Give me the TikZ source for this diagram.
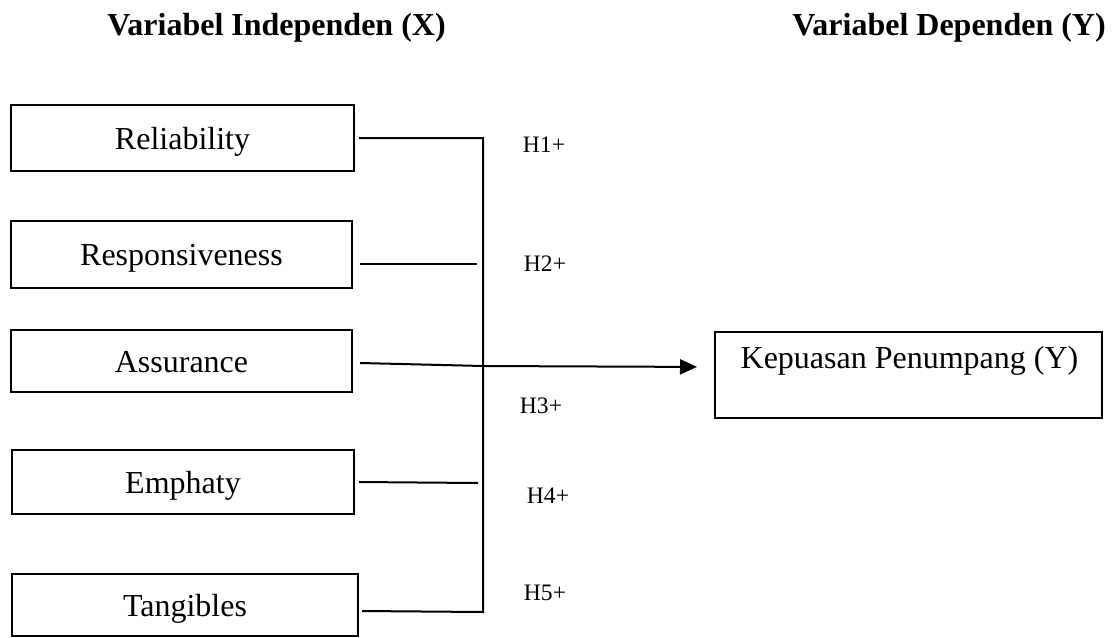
\documentclass[tikz,border=0pt]{standalone}
\usepackage{fontspec}
\setmainfont{Liberation Serif}
\usetikzlibrary{arrows.meta}

\tikzset{
  varbox/.style={draw,line width=1pt,minimum width=171pt,minimum height=32pt,
                 inner sep=0pt,text height=13pt,text depth=2pt,
                 font=\fontsize{16}{19}\selectfont},
  link/.style={line width=1pt},
  hyp/.style={font=\fontsize{11.8}{14}\selectfont},
  head/.style={anchor=base,font=\fontsize{16}{19}\selectfont\bfseries}
}

\begin{document}
\begin{tikzpicture}[x=0.5pt,y=-0.5pt]
%
% Rahmen (1112 x 637 px)
\useasboundingbox (0,0) rectangle (1112,637);
%
% --- Ueberschriften ---
\node[head] (hx) at (276.5,35) {Variabel Independen (X)};
\node[head] (hy) at (949,35) {Variabel Dependen (Y)};
%
% --- Variabel X ---
\node[varbox,minimum width=171.5pt,minimum height=33pt] (rel) at (182.5,138) {Reliability};
\node[varbox,minimum width=170.5pt,minimum height=33.5pt] (resp) at (181.5,254.5) {Responsiveness};
\node[varbox,minimum width=170.5pt,minimum height=31pt] (assur) at (181.5,361) {Assurance};
\node[varbox,minimum height=32pt] (emph) at (183,482) {Emphaty};
\node[varbox,minimum width=173pt,minimum height=31pt] (tang) at (185,605) {Tangibles};
%
% --- Variabel Y ---
\node[draw,line width=1pt,minimum width=193.5pt,minimum height=43pt] (kep) at (908.5,375) {};
\node[anchor=base,font=\fontsize{16}{19}\selectfont] (keptext) at (909.5,368) {Kepuasan Penumpang (Y)};
%
% Sammelschiene
\coordinate (top) at (483,138);
\coordinate (bot) at (483,612);
\coordinate (mid) at (483,366);
\coordinate (respend) at (477,264);
\coordinate (emphend) at (478,483);
%
% --- Verbindungen ---
\draw[link] ([xshift=2pt]rel.east) -- (top) -- (bot) -- ([xshift=1.5pt]tang.east |- 0,611);
\draw[link] ([xshift=3.5pt]resp.east |- respend) -- (respend);
\draw[link] ([xshift=3.5pt]assur.east |- 0,363) -- (mid);
\draw[link,-{Triangle[length=8.5pt,width=7.5pt]},shorten >=8.5pt] (mid) -- (kep.west |- 0,367);
\draw[link] ([xshift=2pt]emph.east) -- (emphend);
%
% Hypothesen
\node[hyp] (h1) at (544,145) {H1+};
\node[hyp] (h2) at (545,264) {H2+};
\node[hyp] (h3) at (541,406) {H3+};
\node[hyp] (h4) at (548,496) {H4+};
\node[hyp] (h5) at (545,593) {H5+};
\end{tikzpicture}
\end{document}
